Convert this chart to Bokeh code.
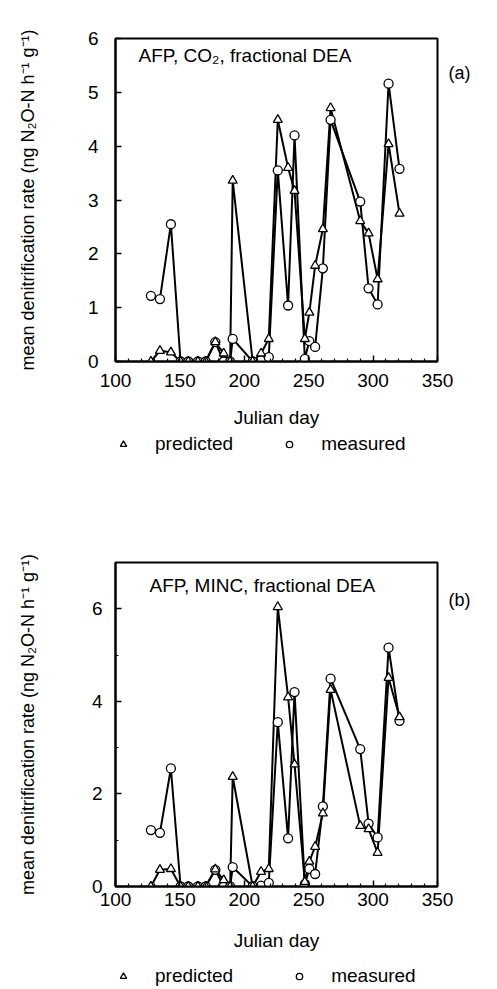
from bokeh.plotting import figure
from bokeh.models import (Label, Legend, LegendItem, FixedTicker, Range1d,
                          ColumnDataSource, LinearAxis)
from bokeh.layouts import column
from bokeh.embed import file_html
from bokeh.resources import INLINE

# ---- data ----
days = [127.5, 134.5, 143, 150.5, 156.5, 164, 170, 177.5, 184, 189, 191, 206.5, 213,
        219, 226, 234, 239, 247, 250.5, 255, 261, 267, 290, 296.5, 303.5, 312, 320.5]
measured = [1.22, 1.16, 2.55, 0, 0, 0, 0, 0.36, 0, 0, 0.42, 0, 0.02,
            0.08, 3.55, 1.04, 4.2, 0.05, 0.38, 0.27, 1.73, 4.49, 2.97, 1.36, 1.06, 5.16, 3.58]
predicted_co2 = [0, 0.2, 0.17, 0, 0, 0, 0, 0.36, 0.15, 0, 3.36, 0, 0.15,
                 0.42, 4.49, 3.6, 3.17, 0.42, 0.91, 1.78, 2.46, 4.71, 2.61, 2.38, 1.53, 4.04, 2.75]
predicted_minc = [0, 0.36, 0.38, 0, 0, 0, 0, 0.37, 0.14, 0, 2.37, 0, 0.32,
                  0.38, 6.04, 4.09, 2.64, 0.1, 0.54, 0.86, 1.58, 4.25, 1.31, 1.24, 0.73, 4.51, 3.66]

x_ticks = [100, 150, 200, 250, 300, 350]
x_minor = [v for v in range(110, 350, 10) if v % 50 != 0]
y_ticks_a = [0, 1, 2, 3, 4, 5, 6]
y_ticks_b = [0, 2, 4, 6]
y_minor_b = [1, 3, 5]
legend_labels = ["predicted", "measured"]

FONT = "Liberation Sans"
YLABEL = "mean denitrification rate (ng N\u2082O-N h\u207b\u00b9 g\u207b\u00b9)"
BL, BR = 115, 60


def make_panel(pred, title, tag, tag_y, height, ymax, yticks, yminor, bt, bb,
               title_xy, tick_standoff_x, axis_label_standoff, tick_standoff_y,
               ylabel_standoff):
    p = figure(width=497, height=height, output_backend="svg", toolbar_location=None,
               x_range=Range1d(100, 350), y_range=Range1d(0, ymax),
               min_border_left=BL, min_border_top=bt, min_border_bottom=bb,
               min_border_right=BR)
    p.grid.visible = False
    p.outline_line_color = "black"
    p.outline_line_width = 2
    p.background_fill_color = "white"
    p.border_fill_color = "white"

    src = ColumnDataSource(dict(x=days, m=measured, p=pred))
    p.line("x", "p", source=src, line_color="black", line_width=2)
    p.line("x", "m", source=src, line_color="black", line_width=2)
    p.scatter("x", "m", source=src, marker="circle", size=9,
              line_color="black", line_width=1.3, fill_color="white")
    p.scatter("x", "p", source=src, marker="triangle", size=9,
              line_color="black", line_width=1.3, fill_color="white")

    for ax in (p.xaxis[0], p.yaxis[0]):
        ax.axis_line_width = 2
        ax.axis_line_color = "black"
        ax.major_tick_in = 6
        ax.major_tick_out = 0
        ax.minor_tick_in = 3
        ax.minor_tick_out = 0
        ax.major_tick_line_width = 1.5
        ax.minor_tick_line_width = 1.2
        ax.major_label_text_font = FONT
        ax.major_label_text_font_size = "19px"
        ax.major_label_text_color = "black"
        ax.axis_label_text_font = FONT
        ax.axis_label_text_font_style = "normal"
        ax.axis_label_text_color = "black"

    p.xaxis.ticker = FixedTicker(ticks=x_ticks, minor_ticks=x_minor)
    p.yaxis.ticker = FixedTicker(ticks=yticks, minor_ticks=yminor)
    p.xaxis.major_label_standoff = tick_standoff_x
    p.yaxis.major_label_standoff = tick_standoff_y
    p.xaxis.axis_label = "Julian day"
    p.xaxis.axis_label_text_font_size = "19px"
    p.xaxis.axis_label_standoff = axis_label_standoff
    p.yaxis.axis_label = YLABEL
    p.yaxis.axis_label_text_font_size = "18px"
    p.yaxis.axis_label_standoff = ylabel_standoff

    # panel tag "(a)" / "(b)" at the right of the frame
    tag_axis = LinearAxis(ticker=FixedTicker(ticks=[tag_y], minor_ticks=[]),
                          major_label_overrides={tag_y: tag},
                          axis_line_color=None, major_tick_line_color=None,
                          minor_tick_line_color=None, major_tick_out=0, major_tick_in=0,
                          major_label_standoff=11, major_label_text_font=FONT,
                          major_label_text_font_size="18px",
                          major_label_text_color="black")
    p.add_layout(tag_axis, "right")

    p.add_layout(Label(x=title_xy[0], y=title_xy[1], x_units="screen", y_units="screen",
                       text=title, text_align="left", text_baseline="middle",
                       text_font=FONT, text_font_size="19px", text_color="black"))
    return p


def make_legend(height, bottom, standoff, spacing):
    f = figure(width=497, height=height, output_backend="svg", toolbar_location=None,
               x_range=Range1d(0, 1), y_range=Range1d(0, 1),
               x_axis_type=None, y_axis_type=None,
               min_border_left=BL, min_border_right=BR, min_border_top=0,
               min_border_bottom=0)
    f.grid.visible = False
    f.outline_line_color = None
    nan = float("nan")
    tri = f.scatter(x=[nan], y=[nan], marker="triangle", size=9, line_color="black",
                    line_width=1.3, fill_color="white")
    circ = f.scatter(x=[nan], y=[nan], marker="circle", size=9, line_color="black",
                     line_width=1.3, fill_color="white")
    legend = Legend(items=[LegendItem(label=legend_labels[0], renderers=[tri]),
                           LegendItem(label=legend_labels[1], renderers=[circ])],
                    orientation="horizontal", location=(0, bottom),
                    border_line_color=None, background_fill_alpha=0,
                    label_text_font=FONT, label_text_font_size="19px",
                    label_text_color="black",
                    glyph_width=16, glyph_height=16, label_standoff=standoff,
                    spacing=spacing, padding=0, margin=0)
    f.add_layout(legend, "center")
    return f


p1 = make_panel(predicted_co2, "AFP, CO\u2082, fractional DEA", "(a)", 5.35, 431, 6,
                y_ticks_a, [], 38, 70,
                (23, 306), 12, 17, 17, 47)
leg1 = make_legend(26, 2, 24, 48)
p2 = make_panel(predicted_minc, "AFP, MINC, fractional DEA", "(b)", 6.18, 496, 7,
                y_ticks_b, y_minor_b, 105, 66,
                (34, 301), 6, 21, 13, 51)
leg2 = make_legend(34, 0, 24, 58)

layout = column(p1, leg1, p2, leg2)
open("out.html", "w").write(file_html(layout, INLINE))
